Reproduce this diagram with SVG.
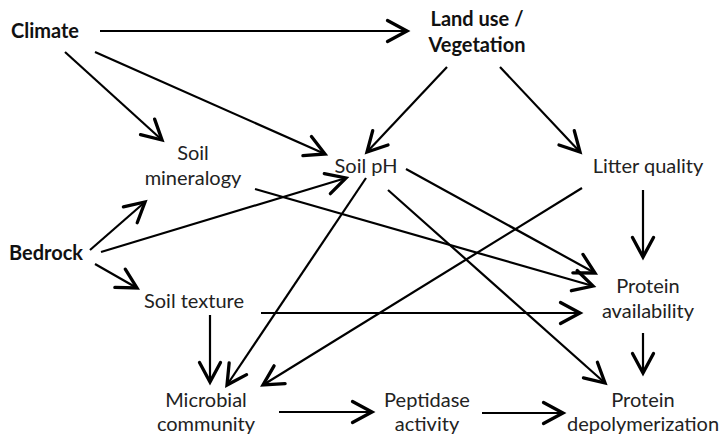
<svg xmlns="http://www.w3.org/2000/svg" width="721" height="437" viewBox="0 0 721 437">
<defs>
<marker id="ah" markerUnits="userSpaceOnUse" markerWidth="30" markerHeight="30" refX="0" refY="0" viewBox="-16 -10 20 20" orient="auto" overflow="visible">
<path d="M-13,-7 L0,0 L-13,7" fill="none" stroke="#000" stroke-width="2.2" stroke-linecap="round" stroke-linejoin="miter"/>
</marker>
<style>
text{font-family:Lato,"Open Sans","Liberation Sans",sans-serif;font-size:20px;fill:#222;text-anchor:middle}
.b{font-weight:bold;fill:#111}
.e{stroke:#000;stroke-width:2.2;fill:none;marker-end:url(#ah)}
</style>
</defs>
<rect width="721" height="437" fill="#fff"/>
<g id="connectors">
<line class="e" x1="100" y1="31" x2="407" y2="31"/>
<line class="e" x1="65" y1="52" x2="162" y2="140"/>
<line class="e" x1="95" y1="52" x2="325" y2="154"/>
<line class="e" x1="447" y1="67" x2="367" y2="152"/>
<line class="e" x1="500" y1="67" x2="580" y2="152"/>
<line class="e" x1="90" y1="250" x2="145" y2="202"/>
<line class="e" x1="101" y1="252" x2="346" y2="178"/>
<line class="e" x1="95" y1="264" x2="137" y2="288"/>
<line class="e" x1="255" y1="189" x2="593" y2="286"/>
<line class="e" x1="406" y1="169" x2="595" y2="273"/>
<line class="e" x1="366" y1="178" x2="227" y2="385"/>
<line class="e" x1="388" y1="190" x2="605" y2="383"/>
<line class="e" x1="582" y1="188" x2="263" y2="385"/>
<line class="e" x1="643" y1="190" x2="643" y2="257"/>
<line class="e" x1="261" y1="313" x2="580" y2="313"/>
<line class="e" x1="210" y1="315" x2="210" y2="382"/>
<line class="e" x1="643" y1="333" x2="643" y2="373"/>
<line class="e" x1="279" y1="412" x2="372" y2="412"/>
<line class="e" x1="482" y1="413" x2="563" y2="413"/>
</g>
<g id="climate"><text class="b" x="45" y="38">Climate</text></g>
<g id="landuse"><text class="b" x="477" y="26">Land use /</text><text class="b" x="477" y="52">Vegetation</text></g>
<g id="mineralogy"><text x="193" y="160">Soil</text><text x="193" y="185">mineralogy</text></g>
<g id="soilph"><text x="366" y="173">Soil pH</text></g>
<g id="litter"><text x="648" y="173">Litter quality</text></g>
<g id="bedrock"><text class="b" x="46" y="260">Bedrock</text></g>
<g id="texture"><text x="194" y="308">Soil texture</text></g>
<g id="availability"><text x="648" y="293">Protein</text><text x="648" y="318">availability</text></g>
<g id="microbial"><text x="206" y="407">Microbial</text><text x="206" y="431">community</text></g>
<g id="peptidase"><text x="427" y="407">Peptidase</text><text x="427" y="431">activity</text></g>
<g id="depoly"><text x="643" y="407">Protein</text><text x="643" y="431">depolymerization</text></g>
</svg>
